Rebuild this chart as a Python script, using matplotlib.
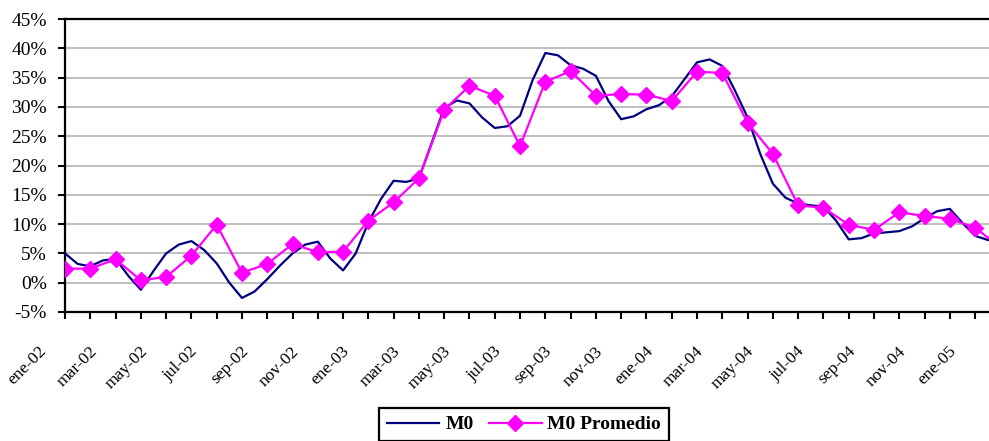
import numpy as np
import matplotlib
matplotlib.use('Agg')
import matplotlib.pyplot as plt
import matplotlib.transforms as mtransforms
from matplotlib.lines import Line2D

# meses (ene-02 .. ene-05)
meses = ['ene', 'feb', 'mar', 'abr', 'may', 'jun', 'jul', 'ago', 'sep', 'oct', 'nov', 'dic']
anios = ['02', '03', '04', '05']
etiquetas = [m + '-' + a for a in anios for m in meses][:37]

# M0 promedio mensual (%), ene-02 .. feb-05
m0_promedio = [2.4, 2.4, 4.0, 0.4, 1.0, 4.6, 9.9, 1.7, 3.2, 6.6, 5.2, 5.3,
               10.6, 13.7, 17.8, 29.5, 33.6, 31.9, 23.3, 34.3, 36.1, 31.9, 32.2, 32.1,
               31.0, 36.0, 35.8, 27.3, 22.0, 13.2, 12.8, 9.9, 9.0, 12.0, 11.4, 10.9,
               9.4, 6.0]

# M0 quincenal (%), desde ene-02
m0 = [5.0, 3.2, 2.8, 3.8, 4.1, 1.2, -1.2, 2.0, 5.0, 6.5, 7.1, 5.6,
      3.3, 0.0, -2.6, -1.5, 0.6, 2.9, 5.0, 6.5, 7.0, 4.1, 2.1, 5.0,
      10.3, 14.3, 17.4, 17.2, 17.8, 23.8, 29.8, 31.1, 30.6, 28.2, 26.4, 26.7,
      28.5, 34.6, 39.2, 38.8, 37.1, 36.5, 35.3, 31.0, 27.9, 28.4, 29.6, 30.3,
      31.8, 34.7, 37.6, 38.1, 37.0, 32.8, 28.2, 22.0, 16.9, 14.5, 13.5, 13.2,
      13.0, 10.6, 7.4, 7.6, 8.4, 8.6, 8.8, 9.6, 11.0, 12.2, 12.6, 10.2,
      8.0, 7.3, 7.0]

x_prom = np.arange(len(m0_promedio))
x_m0 = np.arange(len(m0)) * 0.5

serif = 'Liberation Serif'

fig = plt.figure(figsize=(9.89, 4.41), dpi=100)
ax = fig.add_axes([65/989, 1-312/441, 1-65/989, (312-19)/441])

ax.plot(x_m0, m0, color='#000080', lw=1.6, label='M0', zorder=3)
ax.plot(x_prom, m0_promedio, color='#FF00FF', lw=1.6, marker='D', markersize=8,
        label='M0 Promedio', zorder=4)

ax.set_xlim(0, (989-65)/25.28)
ax.set_ylim(-5, 45)

yt = np.arange(-5, 46, 5)
ax.set_yticks(yt)
ax.set_yticklabels([f'{v}%' for v in yt], fontfamily=serif, fontsize=14)
ax.yaxis.grid(True, color='#C0C0C0', lw=1.5)
ax.set_axisbelow(True)

ax.set_xticks(np.arange(37))
ax.set_xticklabels([])
# etiquetas rotadas, desplazadas como en excel
offset = mtransforms.ScaledTranslation(-0.21, -0.37, fig.dpi_scale_trans)
for i, e in enumerate(etiquetas):
    if i % 2 == 0:
        ax.text(i, 0, e, transform=ax.get_xaxis_transform() + offset,
                fontfamily=serif, fontsize=12.5, rotation=45,
                ha='right', va='center', rotation_mode='anchor')

ax.tick_params(axis='x', length=5, width=1.5, direction='out')
ax.tick_params(axis='y', length=5, width=1.5, pad=8, direction='out')

for s in ['left', 'bottom', 'top']:
    ax.spines[s].set_linewidth(1.6)
    ax.spines[s].set_color('black')
ax.spines['right'].set_visible(False)

handles = [Line2D([], [], color='#000080', lw=1.6),
           Line2D([], [], color='#FF00FF', lw=1.6, marker='D', markersize=8)]
leg = ax.legend(handles, ['M0', 'M0 Promedio'], loc='upper center', ncol=2,
                bbox_to_anchor=(524/989, 1-408/441), bbox_transform=fig.transFigure,
                prop={'family': serif, 'weight': 'bold', 'size': 14},
                frameon=True, fancybox=False, edgecolor='black', framealpha=1,
                handlelength=2.7, columnspacing=0.8, handletextpad=0.3,
                borderpad=0.4, borderaxespad=0)
leg.get_frame().set_linewidth(1.6)

fig.savefig('out.png', dpi=100)
